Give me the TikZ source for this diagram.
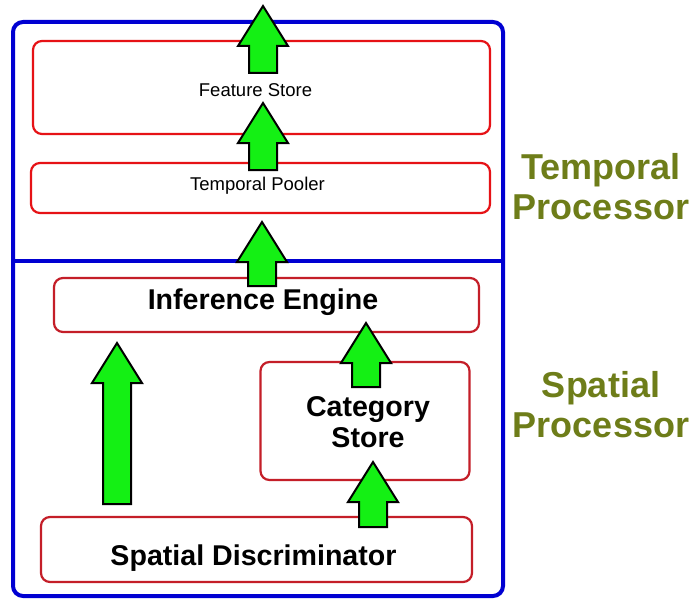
\documentclass[tikz,border=0pt]{standalone}
\usepackage{fontspec}
\setmainfont{Liberation Sans}
\definecolor{frameblue}{RGB}{0,0,210}
\definecolor{boxred}{RGB}{230,18,22}
\definecolor{boxdred}{RGB}{196,30,40}
\definecolor{agreen}{RGB}{20,240,20}
\definecolor{olive}{RGB}{110,125,25}
\tikzset{
  redbox/.style={draw=boxred, line width=2.2pt, rounded corners=9pt, inner sep=0pt},
  dredbox/.style={draw=boxdred, line width=2.2pt, rounded corners=9pt, inner sep=0pt},
  smalltxt/.style={font=\fontsize{18.5}{20}\selectfont, inner sep=0pt, anchor=base},
  bigtxt/.style={font=\bfseries\fontsize{28.6}{31}\selectfont, inner sep=0pt},
  sidetxt/.style={font=\bfseries\fontsize{36}{40}\selectfont, text=olive, align=center, inner sep=0pt},
  garrow/.style={fill=agreen, draw=black, line width=2pt, line join=miter}
}
\newcommand{\garrowat}[3]{% tip x, tip y, bottom y
  \filldraw[garrow] (#1,#2) -- (#1+25,#2+40) -- (#1+14,#2+40) -- (#1+14,#3)
    -- (#1-14,#3) -- (#1-14,#2+40) -- (#1-25,#2+40) -- cycle;}
\begin{document}
\begin{tikzpicture}[x=1pt,y=-1pt]
\useasboundingbox (0,0) rectangle (695,599);
\fill[white] (0,0) rectangle (695,599);
% outer frame
\draw[frameblue, line width=4pt, rounded corners=10pt] (13,22) rectangle (503,596);
\draw[frameblue, line width=4pt] (13,261) -- (503,261);
% boxes
\node[redbox, minimum width=457pt, minimum height=93pt] (fsbox) at (261.5,87.5) {};
\node[redbox, minimum width=459pt, minimum height=50pt] (tpbox) at (260.5,188) {};
\node[dredbox, minimum width=425pt, minimum height=54pt] (iebox) at (266.5,305) {};
\node[dredbox, minimum width=209pt, minimum height=118pt] (csbox) at (365,421) {};
\node[dredbox, minimum width=431pt, minimum height=65pt] (sdbox) at (256.5,549.5) {};
% texts
\node[smalltxt] (fs) at (255.5,97) {Feature Store};
\node[smalltxt] (tp) at (257.5,190) {Temporal Pooler};
\node[bigtxt, anchor=base] (ie) at (263,309) {Inference Engine};
\node[bigtxt, align=center] (cs) at (368,422.5) {Category\\Store};
\node[bigtxt, anchor=base] (sd) at (253.5,565) {Spatial Discriminator};
\node[sidetxt] (tproc) at (601,187) {Temporal\\Processor};
\node[sidetxt] (sproc) at (601,404.5) {Spatial\\Processor};
% arrows
\garrowat{263}{6}{73}
\garrowat{263}{103}{170}
\garrowat{262}{222}{286}
\garrowat{117}{343}{504}
\garrowat{366}{323}{387}
\garrowat{373}{462}{527}
\end{tikzpicture}
\end{document}
